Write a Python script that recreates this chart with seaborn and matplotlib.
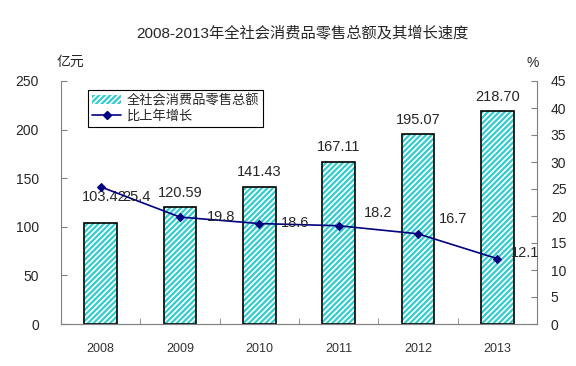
import numpy as np
import pandas as pd
import seaborn as sns
import matplotlib.pyplot as plt
from matplotlib.patches import Patch
from matplotlib.lines import Line2D
from matplotlib.ticker import MultipleLocator, FixedLocator

# data
years = ["2008", "2009", "2010", "2011", "2012", "2013"]
sales = [103.42, 120.59, 141.43, 167.11, 195.07, 218.70]
growth = [25.4, 19.8, 18.6, 18.2, 16.7, 12.1]
sales_labels = ["103.42", "120.59", "141.43", "167.11", "195.07", "218.70"]
growth_labels = ["25.4", "19.8", "18.6", "18.2", "16.7", "12.1"]

sns.set_style("white")
plt.rcParams['font.family'] = ['Liberation Sans', 'Noto Sans CJK SC', 'DejaVu Sans']
plt.rcParams['hatch.linewidth'] = 1.6

cyan = "#33CCCC"
navy = "#000080"

df = pd.DataFrame({"year": years, "sales": sales, "growth": growth})

fig = plt.figure(figsize=(5.76, 3.66), dpi=100)
ax = fig.add_axes([61/576, 1 - 324/366, 476/576, 243/366])

# hatched fill, then black outline on top
sns.barplot(data=df, x="year", y="sales", ax=ax, color="white", width=0.41,
            edgecolor=cyan, linewidth=0, hatch="//////", saturation=1)
sns.barplot(data=df, x="year", y="sales", ax=ax, fill=False, width=0.41,
            edgecolor="black", linewidth=1.2)

ax.set_ylim(0, 250)
ax.set_xlim(-0.5, 5.5)
ax.yaxis.set_major_locator(MultipleLocator(50))
ax.set_xlabel("")
ax.set_ylabel("")

ax2 = ax.twinx()
sns.lineplot(x=np.arange(len(years)), y=df["growth"], ax=ax2, color=navy,
             marker="D", markersize=4.5, markeredgecolor=navy, linewidth=1.2)
ax2.set_ylim(0, 45)
ax2.yaxis.set_major_locator(MultipleLocator(5))
ax2.set_ylabel("")
ax2.set_xlim(-0.5, 5.5)

# spines
for a in (ax, ax2):
    for s in a.spines.values():
        s.set_visible(False)
    a.spines["bottom"].set_visible(True)
    a.spines["bottom"].set_color("#808080")
ax.spines["left"].set_visible(True)
ax.spines["left"].set_color("#808080")
ax2.spines["right"].set_visible(True)
ax2.spines["right"].set_color("#808080")

# ticks
ax.tick_params(axis="y", direction="in", length=4, color="#808080", labelsize=10, pad=16, left=True)
ax2.tick_params(axis="y", direction="in", length=4, color="#808080", labelsize=10, pad=10, right=True)
ax.xaxis.set_minor_locator(FixedLocator(np.arange(0.5, 5.5, 1)))
ax.tick_params(axis="x", which="major", length=0, labelsize=9, labelcolor="#333333", pad=14)
ax.tick_params(axis="x", which="minor", direction="in", length=4, color="#808080", bottom=True)
ax2.tick_params(axis="x", which="both", length=0)

# bar value labels (2008 label was moved up in the original)
bar_dx = [0.04, 0.0, 0.0, 0.0, 0.0, 0.0]
bar_y = [130.7, None, None, None, None, None]
for i, (v, t) in enumerate(zip(sales, sales_labels)):
    y = bar_y[i] if bar_y[i] is not None else v + 14.5
    ax.text(i + bar_dx[i], y, t, ha="center", va="center", fontsize=10.5)

# growth labels
g_pos = [(0.445, 23.5), (1.52, 19.8), (2.45, 18.7), (3.5, 20.6), (4.44, 19.4), (5.35, 13.1)]
for (x, y), t in zip(g_pos, growth_labels):
    ax2.text(x, y, t, ha="center", va="center", fontsize=10.5)

# units
fig.text(70/576, 1 - 62/366, "亿元", ha="center", va="center", fontsize=10)
fig.text(533/576, 1 - 63/366, "%", ha="center", va="center", fontsize=10)

fig.text(302/576, 1 - 33/366, "2008-2013年全社会消费品零售总额及其增长速度",
         ha="center", va="center", fontsize=11)

handles = [Patch(facecolor="white", edgecolor=cyan, hatch="//////", linewidth=0),
           Line2D([0], [0], color=navy, marker="D", markersize=4.5, linewidth=1.2)]
leg = ax2.legend(handles, ["全社会消费品零售总额", "比上年增长"], loc="upper left",
                 bbox_to_anchor=(0.057, 0.962), fontsize=9.5, frameon=True,
                 fancybox=False, edgecolor="black", framealpha=1,
                 handlelength=2.2, handletextpad=0.4, borderpad=0.3, labelspacing=0.2,
                 borderaxespad=0)
leg.get_frame().set_linewidth(0.8)

fig.savefig("out.png", dpi=100)
